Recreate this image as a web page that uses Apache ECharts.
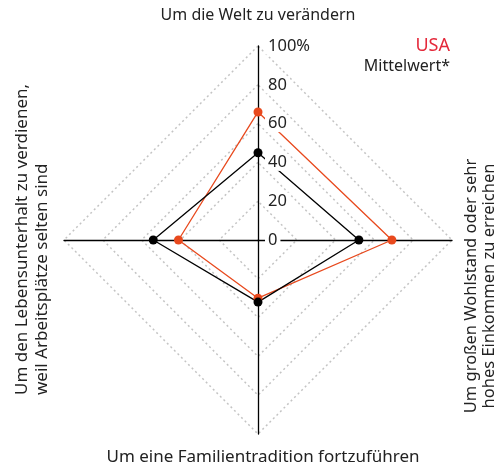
<!DOCTYPE html>
<html>
<head>
<meta charset="utf-8">
<script src="https://cdn.jsdelivr.net/npm/echarts@6/dist/echarts.min.js"></script>
<style>
  html, body { margin: 0; padding: 0; background: #fff; }
  #chart { width: 503px; height: 472px; }
</style>
</head>
<body>
<div id="chart"></div>
<script>
// indicators run counter-clockwise from the top
const categories = [
  'Um die Welt zu verändern',
  'Um den Lebensunterhalt zu verdienen,\nweil Arbeitsplätze selten sind',
  'Um eine Familientradition fortzuführen',
  'Um großen Wohlstand oder sehr\nhohes Einkommen zu erreichen'
]
const usaValues = [66, 41, 30, 69]
const meanValues = [45, 54, 32, 52]
const seriesNames = ['USA', 'Mittelwert*']
const tickLabels = ['0', '20', '40', '60', '80', '100%']

const FONT = '"Noto Sans", "Open Sans", sans-serif'
const RED = '#e8491d'
const CENTER = [258, 240]
const RADIUS = 194

const chart = echarts.init(document.getElementById('chart'))

const indicatorsBase = categories.map(() => ({ min: 0, max: 100 }))

const option = {
  animation: false,
  legend: {
    orient: 'vertical',
    right: 43,
    top: 32,
    align: 'right',
    itemGap: 3,
    itemWidth: 0,
    itemHeight: 0,
    icon: 'none',
    selectedMode: false,
    data: [
      { name: seriesNames[0], textStyle: { color: '#e4283a', fontSize: 18, fontFamily: FONT } },
      { name: seriesNames[1], textStyle: { color: '#222', fontSize: 16, fontFamily: FONT } }
    ]
  },
  radar: [
    {
      // grid + axis lines, below the series
      z: 1,
      center: CENTER,
      radius: RADIUS,
      startAngle: 90,
      shape: 'polygon',
      splitNumber: 5,
      indicator: indicatorsBase.map(d => ({ ...d, name: '' })),
      axisName: { show: false },
      axisLine: { lineStyle: { color: '#000', width: 1.3 } },
      splitLine: { lineStyle: { color: '#c4c4c4', width: 1.5, type: [2, 3] } },
      splitArea: { show: false },
      axisTick: { show: false },
      axisLabel: { show: false }
    },
    {
      // tick labels only, on top of the series
      z: 5,
      center: CENTER,
      radius: RADIUS,
      startAngle: 90,
      shape: 'polygon',
      splitNumber: 5,
      indicator: indicatorsBase.map((d, i) => ({
        ...d,
        name: '',
        axisLabel: { show: i === 0 }
      })),
      axisName: { show: false },
      axisLine: { show: false },
      splitLine: { show: false },
      splitArea: { show: false },
      axisTick: { show: false },
      axisLabel: {
        show: false,
        color: '#222',
        fontSize: 16.5,
        fontFamily: FONT,
        margin: -7,
        align: 'left',
        backgroundColor: '#fff',
        padding: [0, 3],
        formatter: v => tickLabels[Math.round(v / 20)]
      }
    }
  ],
  series: [{
    type: 'radar',
    radarIndex: 0,
    z: 3,
    symbol: 'circle',
    symbolSize: 9,
    data: [
      {
        name: seriesNames[0],
        value: usaValues,
        itemStyle: { color: RED },
        lineStyle: { color: RED, width: 1.3 }
      },
      {
        name: seriesNames[1],
        value: meanValues,
        itemStyle: { color: '#000' },
        lineStyle: { color: '#000', width: 1.3 }
      }
    ]
  }],
  graphic: [
    {
      type: 'text', x: 258, y: 15,
      style: { text: categories[0], font: '16px ' + FONT, fill: '#222', textAlign: 'center', textVerticalAlign: 'middle' }
    },
    {
      type: 'text', x: 263, y: 457,
      style: { text: categories[2], font: '17px ' + FONT, fill: '#222', textAlign: 'center', textVerticalAlign: 'middle' }
    },
    {
      type: 'text', x: 32, y: 395, rotation: Math.PI / 2,
      style: { text: categories[1], font: '17px ' + FONT, fill: '#222', textAlign: 'left', textVerticalAlign: 'middle', lineHeight: 20 }
    },
    {
      type: 'text', x: 480, y: 286, rotation: Math.PI / 2,
      style: { text: categories[3], font: '16.5px ' + FONT, fill: '#222', textAlign: 'center', textVerticalAlign: 'middle', lineHeight: 18 }
    }
  ]
}

chart.setOption(option)
</script>
</body>
</html>
